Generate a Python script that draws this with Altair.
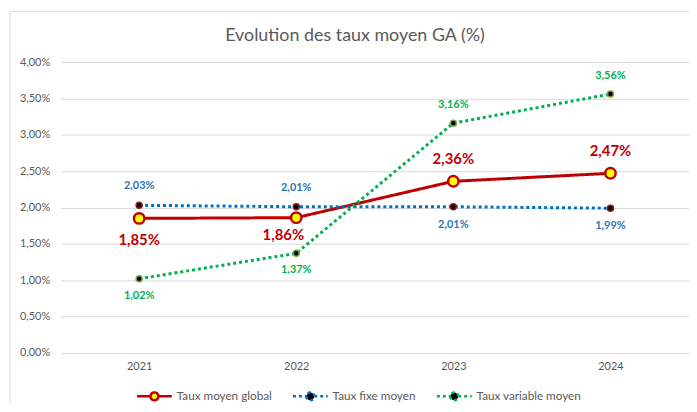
import altair as alt
import pandas as pd

# ---- data ----
years = ["2021", "2022", "2023", "2024"]
series_names = ["Taux moyen global", "Taux fixe moyen", "Taux variable moyen"]
taux_global = [1.85, 1.86, 2.36, 2.47]
taux_fixe = [2.03, 2.01, 2.01, 1.99]
taux_variable = [1.02, 1.37, 3.16, 3.56]
# which side of the point each value label sits on
side_global = ["below", "below left", "above", "above"]
side_fixe = ["above", "above", "below", "below"]
side_variable = ["below", "below", "above", "above"]
y_ticks = [0, 0.5, 1, 1.5, 2, 2.5, 3, 3.5, 4]

rows = []
for name, vals, sides in [
    (series_names[0], taux_global, side_global),
    (series_names[1], taux_fixe, side_fixe),
    (series_names[2], taux_variable, side_variable),
]:
    for yr, v, s in zip(years, vals, sides):
        rows.append({"year": yr, "series": name, "value": v, "side": s})
df = pd.DataFrame(rows)

RED = "#C00000"
BLUE = "#0070C0"
GREEN = "#00B050"
GRAY = "#595959"
FONT = "Lato"

base = alt.Chart(df).transform_calculate(
    label="replace(format(datum.value, '.2f'), '.', ',') + '%'"
)

x_enc = alt.X(
    "year:O",
    sort=years,
    axis=alt.Axis(
        title=None, labelAngle=0, domain=False, ticks=False, grid=False,
        labelColor=GRAY, labelFontSize=11, labelFont=FONT, labelPadding=8,
    ),
)
y_enc = alt.Y(
    "value:Q",
    scale=alt.Scale(domain=[0, 4], nice=False),
    axis=alt.Axis(
        title=None, values=y_ticks, domain=False, ticks=False,
        gridColor="#D9D9D9", gridWidth=1,
        labelColor=GRAY, labelFontSize=11, labelFont=FONT, labelPadding=11,
        labelExpr="replace(format(datum.value, '.2f'), '.', ',') + '%'",
    ),
)

legend = alt.Legend(
    title=None, orient="none", legendX=76, legendY=330, direction="horizontal",
    symbolType="M-3.5,0H-0.8M0.8,0H3.5M-0.8,0A0.8,0.8,0,1,0,0.8,0A0.8,0.8,0,1,0,-0.8,0",
    symbolSize=100, symbolStrokeWidth=2.5, symbolOffset=12,
    labelOffset=16, labelFontSize=11.8, labelColor=GRAY, labelFont=FONT,
    columnPadding=16,
    symbolFillColor=alt.ExprRef(expr="datum.value === 'Taux moyen global' ? '#FFFF00' : '#000000'"),
)

color_scale = alt.Scale(domain=series_names, range=[RED, BLUE, GREEN])
dash_scale = alt.Scale(domain=series_names, range=[[1, 0], [3, 3], [3, 3]])

lines = base.mark_line(strokeWidth=3, strokeCap="butt").encode(
    x=x_enc,
    y=y_enc,
    color=alt.Color("series:N", scale=color_scale, legend=legend),
    strokeDash=alt.StrokeDash("series:N", scale=dash_scale, legend=legend),
    order=alt.Order("year:O"),
)

pts_global = base.transform_filter(
    alt.datum.series == series_names[0]
).mark_point(shape="circle", filled=True, opacity=1, fill="#FFFF00", stroke=RED,
             strokeWidth=2.5, size=110).encode(x=x_enc, y=y_enc)
pts_fixe = base.transform_filter(
    alt.datum.series == series_names[1]
).mark_point(shape="circle", filled=True, opacity=1, fill="#000000", stroke="#8B1A1A",
             strokeWidth=1.5, size=36).encode(x=x_enc, y=y_enc)
pts_var = base.transform_filter(
    alt.datum.series == series_names[2]
).mark_point(shape="circle", filled=True, opacity=1, fill="#000000", stroke="#7FA040",
             strokeWidth=1.5, size=36).encode(x=x_enc, y=y_enc)


def labels(series, side, color, size, dy, dx=0):
    return base.transform_filter(
        (alt.datum.series == series) & (alt.datum.side == side)
    ).mark_text(
        font=FONT, fontWeight="bold", fontSize=size, color=color,
        baseline="middle", dy=dy, dx=dx,
    ).encode(x=x_enc, y=y_enc, text="label:N")


text_layers = [
    labels(series_names[0], "above", RED, 15, -22),
    labels(series_names[0], "below", RED, 15, 22),
    labels(series_names[0], "below left", RED, 15, 17, -13),
    labels(series_names[1], "above", "#2E75B6", 11, -19),
    labels(series_names[1], "below", "#2E75B6", 11, 18),
    labels(series_names[2], "above", GREEN, 11, -18),
    labels(series_names[2], "below", GREEN, 11, 17),
]

frame = alt.Chart(alt.Data(values=[{}])).mark_rect(
    fill="transparent", stroke="#D9D9D9", strokeWidth=1
).encode(
    x=alt.value(-51), x2=alt.value(700), y=alt.value(-51), y2=alt.value(400)
)

chart = alt.layer(
    frame, lines, pts_fixe, pts_var, pts_global, *text_layers
).properties(
    width=633, height=293,
    padding={"left": 53, "top": 53, "right": 0, "bottom": 50},
    autosize=alt.AutoSizeParams(type="none"),
    title=alt.TitleParams(
        "Evolution des taux moyen GA (%)", font=FONT, fontSize=18,
        fontWeight="normal", color=GRAY, offset=-34, dx=-20, anchor="middle",
    ),
).configure_view(stroke=None)

chart.save("out.html", embed_options={"renderer": "svg", "actions": False})
